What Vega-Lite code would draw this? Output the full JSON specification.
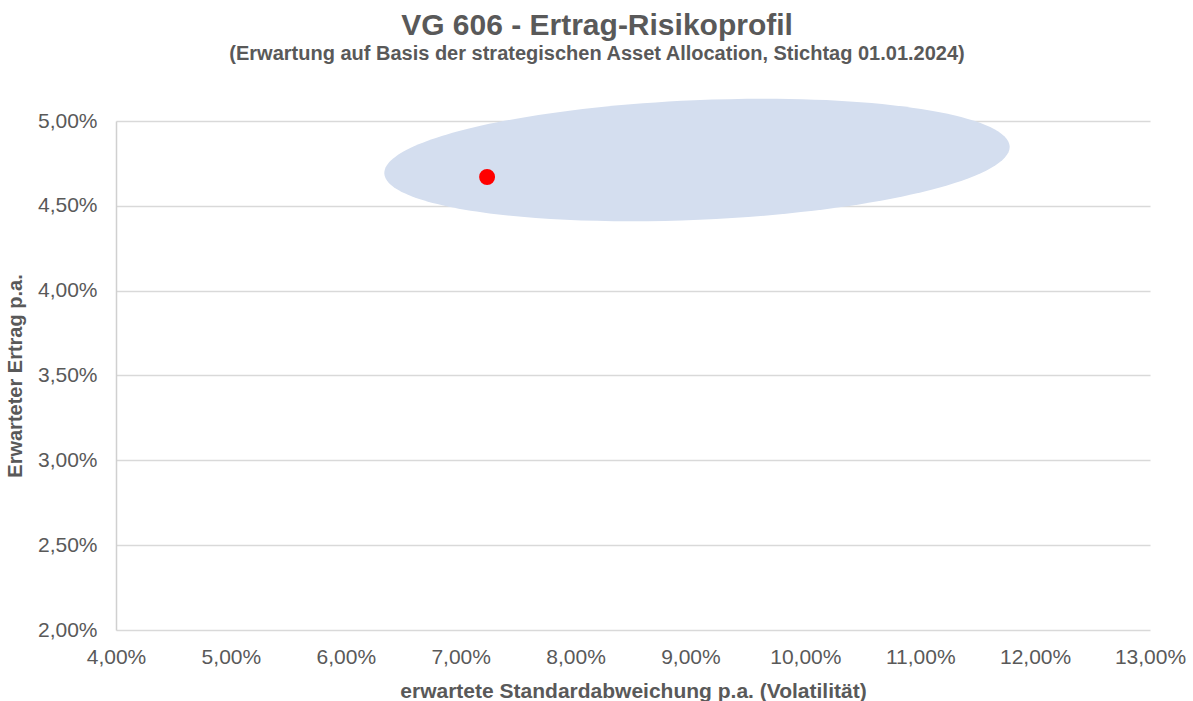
{
  "$schema": "https://vega.github.io/schema/vega-lite/v6.json",
  "width": 1034,
  "height": 509,
  "autosize": {"type": "none"},
  "padding": {"left": 116, "top": 121, "right": 43, "bottom": 71},
  "background": "white",
  "config": {
    "font": "Liberation Sans",
    "view": {"stroke": null},
    "title": {"color": "#595959"}
  },
  "title": {
    "text": "VG 606 - Ertrag-Risikoprofil",
    "subtitle": "(Erwartung auf Basis der strategischen Asset Allocation, Stichtag 01.01.2024)",
    "anchor": "middle",
    "frame": "group",
    "dx": -36,
    "fontSize": 30,
    "fontWeight": "bold",
    "subtitleFontSize": 20,
    "subtitleFontWeight": "bold",
    "subtitleColor": "#595959",
    "subtitlePadding": 3,
    "offset": 35
  },
  "datasets": {
    "ellipse": [{"x": 0.09057, "y": 0.0477}],
    "fund": [{"x": 0.0723, "y": 0.0467}]
  },
  "layer": [
    {
      "data": {"name": "ellipse"},
      "mark": {
        "type": "point",
        "filled": true,
        "opacity": 1,
        "color": "#d4deef",
        "strokeWidth": 0,
        "size": 391876,
        "shape": "M -0.99906 0.04327 A 1 0.1917 -2.48 0 1 0.99906 -0.04327 A 1 0.1917 -2.48 0 1 -0.99906 0.04327 Z"
      },
      "encoding": {
        "x": {
          "field": "x", "type": "quantitative",
          "scale": {"domain": [0.04, 0.13], "nice": false, "zero": false},
          "axis": {
            "title": "erwartete Standardabweichung p.a. (Volatilität)",
            "values": [0.04, 0.05, 0.06, 0.07, 0.08, 0.09, 0.10, 0.11, 0.12, 0.13],
            "labelExpr": "replace(format(datum.value, '.2%'), '.', ',')",
            "labelFlush": false,
            "labelOverlap": false,
            "labelBound": false,
            "grid": false,
            "ticks": false,
            "domain": false,
            "labelFontSize": 21,
            "labelColor": "#595959",
            "labelPadding": 16,
            "titleFontSize": 21,
            "titleFontWeight": "bold",
            "titleColor": "#595959",
            "titlePadding": 13
          }
        },
        "y": {
          "field": "y", "type": "quantitative",
          "scale": {"domain": [0.02, 0.05], "nice": false, "zero": false},
          "axis": {
            "title": "Erwarteter Ertrag p.a.",
            "values": [0.02, 0.025, 0.03, 0.035, 0.04, 0.045, 0.05],
            "labelExpr": "replace(format(datum.value, '.2%'), '.', ',')",
            "labelFlush": false,
            "labelOverlap": false,
            "grid": true,
            "gridColor": "#d9d9d9",
            "gridWidth": 1.5,
            "ticks": false,
            "domain": true,
            "domainColor": "#d0d0d0",
            "domainWidth": 1.5,
            "labelFontSize": 21,
            "labelColor": "#595959",
            "labelPadding": 19,
            "titleFontSize": 20,
            "titleFontWeight": "bold",
            "titleColor": "#595959",
            "titlePadding": 12
          }
        }
      }
    },
    {
      "data": {"name": "fund"},
      "mark": {"type": "circle", "color": "#ff0000", "opacity": 1, "size": 254},
      "encoding": {
        "x": {"field": "x", "type": "quantitative"},
        "y": {"field": "y", "type": "quantitative"}
      }
    }
  ]
}
